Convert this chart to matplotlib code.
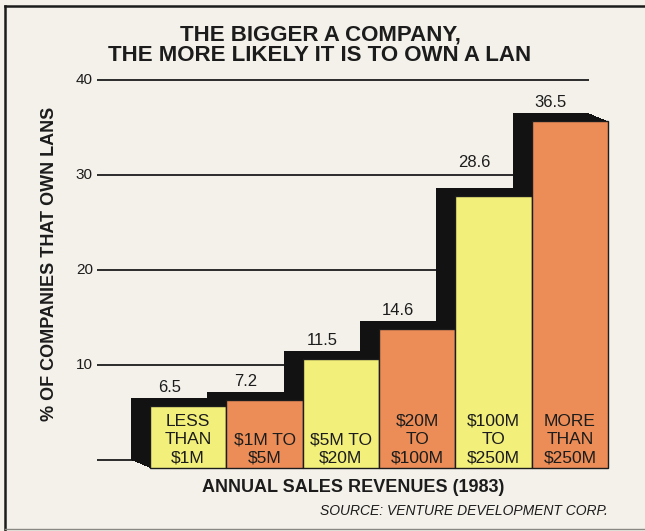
import numpy as np
import matplotlib
matplotlib.use("Agg")
import matplotlib.pyplot as plt
from matplotlib.transforms import ScaledTranslation
from matplotlib.lines import Line2D

# Share of companies owning a LAN, by annual sales revenue band (1983)
categories = ["LESS\nTHAN\n$1M", "$1M TO\n$5M", "$5M TO\n$20M",
              "$20M\nTO\n$100M", "$100M\nTO\n$250M", "MORE\nTHAN\n$250M"]
shares = [6.5, 7.2, 11.5, 14.6, 28.6, 36.5]
value_labels = ["6.5", "7.2", "11.5", "14.6", "28.6", "36.5"]
y_ticks = [10, 20, 30, 40]
y_tick_labels = ["10", "20", "30", "40"]

title = "THE BIGGER A COMPANY,\nTHE MORE LIKELY IT IS TO OWN A LAN"
y_label = "% OF COMPANIES THAT OWN LANS"
x_label = "ANNUAL SALES REVENUES (1983)"
source = "SOURCE: VENTURE DEVELOPMENT CORP."

PAPER = "#f4f1ea"
INK = "#1c1c1c"
SHADOW = "#121212"
YELLOW = "#f2ef7a"
ORANGE = "#ec8d57"
face_colors = [YELLOW, ORANGE, YELLOW, ORANGE, YELLOW, ORANGE]

plt.rcParams["font.family"] = ["Liberation Sans", "DejaVu Sans"]

W, H, DPI = 645, 531, 100
fig = plt.figure(figsize=(W / DPI, H / DPI), dpi=DPI, facecolor=PAPER)

# axes span the back plane of the 3-D bars
left_px, right_px, top_px, base_px = 97, 589, 80, 460
ax = fig.add_axes([left_px / W, (H - base_px) / H,
                   (right_px - left_px) / W, (base_px - top_px) / H])
ax.set_facecolor("none")
for s in ax.spines.values():
    s.set_visible(False)
ax.set_xticks([])
ax.set_yticks([])

x = np.arange(len(shares))
bar_w = 1.0
x_left = -0.5 - 34 / ((right_px - left_px - 34) / len(shares))
ax.set_xlim(x_left, x[-1] + bar_w / 2)
ax.set_ylim(0, 40)
units_per_px = 40 / (base_px - top_px)

# depth of the extrusion: front face sits right and below the back face
DX_IN, DY_IN = 0.19, -0.08

def shifted(t):
    return ax.transData + ScaledTranslation(t * DX_IN, t * DY_IN, fig.dpi_scale_trans)

# grid / reference lines
ax.hlines([0] + y_ticks, x_left, x[-1] + bar_w / 2, color=INK, lw=1.3,
          zorder=1, clip_on=False)
for t, lab in zip(y_ticks, y_tick_labels):
    ax.annotate(lab, (x_left, t), xytext=(-3, 0), textcoords="offset points",
                ha="right", va="center", fontsize=11, color=INK)

# black extruded body of each bar, swept from back face to front face
for t in np.linspace(0, 1, 40):
    ax.bar(x, shares, width=bar_w, color=SHADOW, linewidth=0,
           transform=shifted(t), zorder=2, clip_on=False)

# coloured front faces
ax.bar(x, shares, width=bar_w, color=face_colors, edgecolor=INK,
       linewidth=1.0, transform=shifted(1), zorder=3, clip_on=False)

# values above the bars; a label that would sit on a grid line is lifted clear of it
label_h = 13 * units_per_px
for xi, v, lab in zip(x, shares, value_labels):
    y0 = v + 3 * units_per_px
    for g in y_ticks:
        if y0 - 2 * units_per_px < g < y0 + label_h:
            y0 = g + 5 * units_per_px
    ax.text(xi, y0, lab, ha="center", va="bottom", fontsize=12, color=INK,
            zorder=5)

# revenue band names inside the front faces
pt = 72 / DPI
for xi, lab in zip(x, categories):
    ax.annotate(lab, (xi, 0), xytext=(19 * pt, -3 * pt), textcoords="offset points",
                ha="center", va="baseline", fontsize=12.5, color=INK,
                linespacing=1.3, multialignment="center", zorder=5)

# titles
fig.text(320 / W, 1 - 24 / H, title, ha="center", va="top", fontsize=16,
         fontweight="bold", color=INK, linespacing=0.98)
fig.text(50 / W, 1 - 264 / H, y_label, rotation=90, ha="center", va="center",
         fontsize=13, fontweight="bold", color=INK)
fig.text(353 / W, 1 - 487 / H, x_label, ha="center", va="center",
         fontsize=13, fontweight="bold", color=INK)
fig.text(608 / W, 1 - 511 / H, source, ha="right", va="center",
         fontsize=10, fontstyle="italic", color=INK)

# frame around the panel
fig.add_artist(Line2D([5 / W, 1], [1 - 6 / H, 1 - 6 / H], color=INK, lw=1.8,
                      transform=fig.transFigure))
fig.add_artist(Line2D([5 / W, 5 / W], [1 - 6 / H, 0], color=INK, lw=1.8,
                      transform=fig.transFigure))
fig.add_artist(Line2D([5 / W, 1], [2 / H, 2 / H], color="#8a8882", lw=1.0,
                      transform=fig.transFigure))

fig.savefig("out.png", dpi=DPI, facecolor=PAPER)
